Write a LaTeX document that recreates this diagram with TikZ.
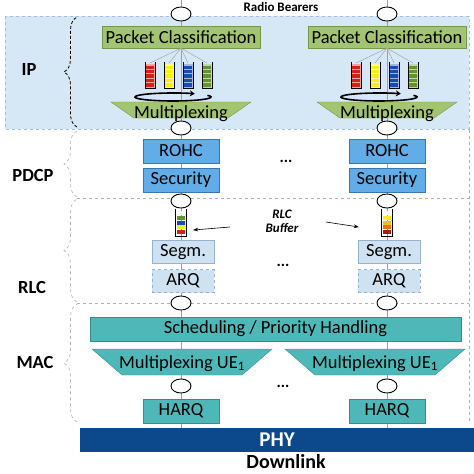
\documentclass[tikz,border=0pt]{standalone}
\usepackage{fontspec}
\setmainfont{Carlito}
\usetikzlibrary{arrows.meta,calc,decorations.pathreplacing,shapes.geometric}

\definecolor{ipfill}{RGB}{214,231,245}
\definecolor{ipedge}{RGB}{165,190,215}
\definecolor{pcgreen}{RGB}{163,196,112}
\definecolor{pcedge}{RGB}{118,150,78}
\definecolor{pdcpblue}{RGB}{98,172,232}
\definecolor{pdcpedge}{RGB}{58,118,178}
\definecolor{rlcblue}{RGB}{206,226,242}
\definecolor{rlcedge}{RGB}{150,178,205}
\definecolor{macteal}{RGB}{78,184,184}
\definecolor{macedge}{RGB}{52,140,140}
\definecolor{phyblue}{RGB}{12,72,140}
\definecolor{qred}{RGB}{212,32,22}
\definecolor{qyellow}{RGB}{250,238,24}
\definecolor{qblue}{RGB}{22,78,168}
\definecolor{qgreen}{RGB}{98,150,42}
\definecolor{qorange}{RGB}{232,112,30}
\definecolor{qdark}{RGB}{165,30,20}

\begin{document}
\begin{tikzpicture}[x=1pt,y=-1pt,
    big/.style={font=\fontsize{18.5}{20}\selectfont},
    layer/.style={font=\bfseries\fontsize{18.5}{20}\selectfont},
    sap/.style={ellipse, draw=black, line width=0.9pt, fill=white, minimum width=20pt, minimum height=14pt, inner sep=0pt},
    pcbox/.style={big, draw=pcedge, fill=pcgreen, minimum width=158pt, minimum height=22pt, inner sep=0pt},
    pdcpbox/.style={big, draw=pdcpedge, fill=pdcpblue, minimum width=76pt, minimum height=24pt, inner sep=0pt},
    rlcbox/.style={big, draw=rlcedge, fill=rlcblue, minimum width=62pt, minimum height=23pt, inner sep=0pt},
    macbox/.style={big, draw=macedge, fill=macteal, minimum height=24pt, inner sep=0pt},
    colline/.style={gray!75, line width=0.6pt},
    region/.style={gray!60, dashed, line width=0.6pt},
    bracedec/.style={decorate, decoration={brace, amplitude=13pt}},
    dots/.style={font=\bfseries\fontsize{16}{16}\selectfont},
  ]

			\useasboundingbox (0,0) rectangle (474,474);

			% IP area
			\draw[ipedge, dashed, fill=ipfill] (5,16) rectangle (469,129);
			\draw[bracedec, densely dashed, line width=0.8pt] (77,127) -- (77,17);

			% PDCP, RLC and MAC areas
			\draw[region] (469,130) -- (469,422);
			\draw[region] (77,198) -- (469,198);
			\draw[region] (77,303) -- (469,303);
			\draw[bracedec, region] (77,197) -- (77,131);
			\draw[bracedec, region] (77,302) -- (77,199);
			\draw[bracedec, region] (77,422) -- (77,304);

			% Layer names
			\node[layer] (lip) at (29,70) {IP};
			\node[layer] (lpdcp) at (33,175) {PDCP};
			\node[layer] (lrlc) at (32,287) {RLC};
			\node[layer] (lmac) at (35,362) {MAC};
			\node[font=\bfseries\fontsize{13}{15}\selectfont] (rb) at (281,7) {Radio Bearers};

			% Bearer chains
			\foreach \c/\xx in {L/181, R/387} {
				\draw[colline] (\xx,0) -- (\xx,428);
				\node[sap] (sapa\c) at (\xx,14) {};
				\node[pcbox] (pc\c) at (\xx,37) {Packet Classification};
				% queues
				\foreach \q/\qc [count=\k] in {-31/qred,-12/qyellow,7/qblue,26/qgreen} {
					\coordinate (q\c\k) at (\xx+\q,63);
					\draw[gray!70, line width=0.5pt] (pc\c.south) -- (q\c\k);
					\fill[\qc!40!white] (\xx+\q-5,64) rectangle (\xx+\q+5,88);
					\foreach \j in {0,...,4}
						\fill[\qc] (\xx+\q-4,65.5+4.4*\j) rectangle (\xx+\q+4,68.9+4.4*\j);
					\draw[line width=0.8pt] (\xx+\q-5,62) -- (\xx+\q-5,88) -- (\xx+\q+5,88) -- (\xx+\q+5,62);
				}
				\draw[line width=1.6pt, -{Stealth[length=5pt,width=6pt]}] (\xx-8,97) ++(-25:38 and 4) arc[start angle=-25, end angle=305, x radius=38, y radius=4];
				\filldraw[draw=pcedge, fill=pcgreen] (\xx-70,102) -- (\xx+70,102) -- (\xx+47,118) -- (\xx-47,118) -- cycle;
				\node[big, inner sep=0pt, anchor=base] (mux\c) at (\xx,118) {Multiplexing};
				\node[sap] (sapb\c) at (\xx,128) {};
				\node[pdcpbox] (rohc\c) at (\xx,151) {ROHC};
				\node[pdcpbox] (sec\c) at (\xx,180) {Security};
				\node[sap] (sapc\c) at (\xx,201) {};
				\node[minimum width=10pt, minimum height=27pt, inner sep=0pt] (buf\c) at (\xx,222.5) {};
				\node[rlcbox] (segm\c) at (\xx+2,252) {Segm.};
				\node[rlcbox, dashed] (arq\c) at (\xx+2,281) {ARQ};
				\node[sap] (sapd\c) at (\xx,303) {};
				\node[sap] (sape\c) at (\xx,386) {};
				\node[macbox, minimum width=76pt] (harq\c) at (\xx,411) {HARQ};
			}

			% RLC buffers
			\foreach \bc [count=\j from 0] in {white,qgreen,qblue,qyellow,qred}
				\fill[\bc] (177,211+4.8*\j) rectangle (185,215+4.8*\j);
			\foreach \bc [count=\j from 0] in {white,qyellow,qyellow!60!qorange,qorange,qdark}
				\fill[\bc] (383,211+4.8*\j) rectangle (391,215+4.8*\j);
			\draw[line width=0.8pt] (bufL.north west) -- (bufL.south west) -- (bufL.south east) -- (bufL.north east);
			\draw[line width=0.8pt] (bufR.north west) -- (bufR.south west) -- (bufR.south east) -- (bufR.north east);

			\node[font=\bfseries\itshape\fontsize{13}{14}\selectfont, align=center] (rlcbuf) at (282,221) {RLC\\Buffer};
			\coordinate (arrL) at (230,227);
			\coordinate (arrR) at (326,222);
			\draw[-{Stealth[length=5pt]}, line width=0.6pt] (arrL) -- ($(bufL.east)+(7,7.5)$);
			\draw[-{Stealth[length=5pt]}, line width=0.6pt] (arrR) -- ($(bufR.west)+(-23,4.5)$);

			% MAC
			\node[macbox, minimum width=371pt] (sched) at (275.5,329) {Scheduling / Priority Handling};
			\filldraw[draw=macedge, fill=macteal] (92,349) -- (272,349) -- (242,375) -- (122,375) -- cycle;
			\node[big, inner sep=0pt, anchor=base] (muxueL) at (182,368) {Multiplexing UE\textsubscript{1}};
			\filldraw[draw=macedge, fill=macteal] (285,349) -- (465,349) -- (435,375) -- (315,375) -- cycle;
			\node[big, inner sep=0pt, anchor=base] (muxueR) at (375,368) {Multiplexing UE\textsubscript{1}};

			% Dots
			\node[dots] (dpdcp) at (286,161) {...};
			\node[dots] (drlc) at (283,265) {...};
			\node[dots] (dmac) at (283,386) {...};

			% PHY
			\node[fill=phyblue, minimum width=394pt, minimum height=24pt, inner sep=0pt, text=white, font=\bfseries\fontsize{21}{24}\selectfont] (phy) at (277,440) {PHY};
			\node[font=\bfseries\fontsize{20}{22}\selectfont, inner sep=0pt] (dl) at (286,462) {Downlink};

		\end{tikzpicture}
\end{document}
